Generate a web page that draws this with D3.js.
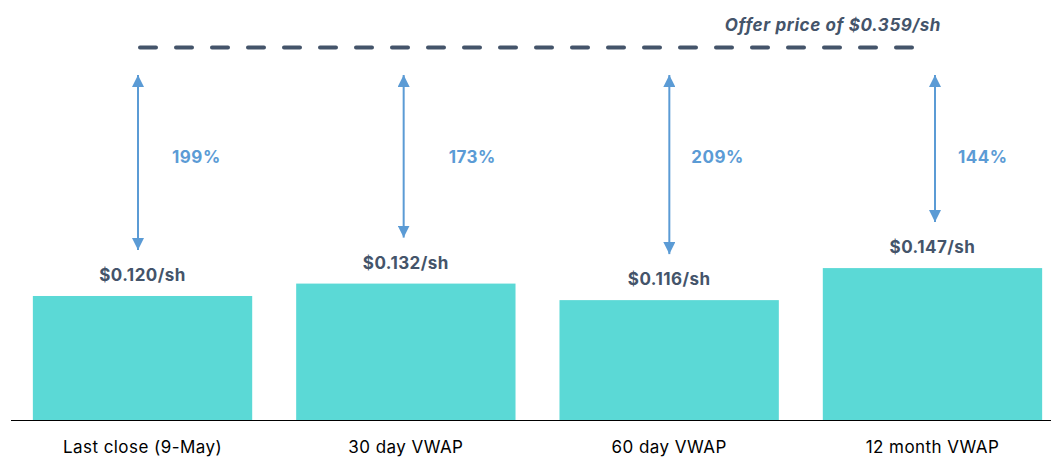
<!DOCTYPE html>
<html>
<head>
<meta charset="utf-8">
<script src="https://cdn.jsdelivr.net/npm/d3@7"></script>
<style>
    body { margin: 0; background: #fff; }
    svg { display: block; font-family: Inter, "Open Sans", sans-serif; }
</style>
</head>
<body>
<div id="chart"></div>
<script>
// chart data
const categories = ['Last close (9-May)', '30 day VWAP', '60 day VWAP', '12 month VWAP'];
const prices = [0.120, 0.132, 0.116, 0.147];
const priceLabels = ['$0.120/sh', '$0.132/sh', '$0.116/sh', '$0.147/sh'];
const premiumLabels = ['199%', '173%', '209%', '144%'];
const offerPrice = 0.359;
const offerLabel = 'Offer price of $0.359/sh';

const svgWidth = 1051;
const svgHeight = 457;
const baseline = 420;
const barColor = '#5BD9D6';
const arrowColor = '#5B9BD5';
const textColor = '#44546A';
// small per-label horizontal nudges for the premium labels
const premiumDx = [34, 45, 22, 23];

const svg = d3.select('#chart')
    .append('svg')
    .attr('width', svgWidth)
    .attr('height', svgHeight);

const xScale = d3.scaleBand()
    .domain(categories)
    .range([11, 1064])
    .paddingInner(0.167)
    .paddingOuter(0.083);

// the arrows are spaced a little wider than the bars
const arrowScale = d3.scalePoint()
    .domain(categories)
    .range([138, 935]);

const yScale = d3.scaleLinear()
    .domain([0, offerPrice])
    .range([baseline, 49]);

svg.append('defs').append('marker')
    .attr('id', 'head')
    .attr('viewBox', '0 0 10 10')
    .attr('refX', 10)
    .attr('refY', 5)
    .attr('markerWidth', 6)
    .attr('markerHeight', 6)
    .attr('markerUnits', 'strokeWidth')
    .attr('orient', 'auto-start-reverse')
    .append('path')
    .attr('d', 'M0,0 L10,5 L0,10 Z')
    .attr('fill', arrowColor);

// bars
svg.selectAll('.bar')
    .data(categories)
    .enter()
    .append('rect')
    .attr('class', 'bar')
    .attr('x', d => xScale(d))
    .attr('y', (d, i) => yScale(prices[i]))
    .attr('width', xScale.bandwidth())
    .attr('height', (d, i) => baseline - yScale(prices[i]))
    .attr('fill', barColor);

// axis
const axis = svg.append('g')
    .attr('transform', `translate(0, ${baseline})`)
    .call(d3.axisBottom(xScale).tickSize(0).tickPadding(21));
axis.select('.domain').attr('d', `M11,0.5H${svgWidth}`).attr('stroke', '#000');
axis.selectAll('text')
    .attr('fill', '#000')
    .style('font-size', '17px')
    .style('letter-spacing', '0.45px')
    .style('font-family', 'Inter, "Open Sans", sans-serif');

// price labels
svg.selectAll('.price-label')
    .data(categories)
    .enter()
    .append('text')
    .attr('class', 'price-label')
    .attr('x', d => xScale(d) + xScale.bandwidth() / 2)
    .attr('y', (d, i) => yScale(prices[i]) - 15)
    .attr('text-anchor', 'middle')
    .attr('fill', textColor)
    .style('font-size', '17px')
    .style('letter-spacing', '0.45px')
    .style('font-weight', 'bold')
    .text((d, i) => priceLabels[i]);

// offer price line
svg.append('line')
    .attr('x1', 140)
    .attr('x2', 916)
    .attr('y1', yScale(offerPrice) - 1.5)
    .attr('y2', yScale(offerPrice) - 1.5)
    .attr('stroke', textColor)
    .attr('stroke-width', 4)
    .attr('stroke-linecap', 'round')
    .attr('stroke-dasharray', '16,20');

svg.append('text')
    .attr('x', 941)
    .attr('y', yScale(offerPrice) - 18)
    .attr('text-anchor', 'end')
    .attr('fill', textColor)
    .style('font-size', '17px')
    .style('letter-spacing', '0.6px')
    .style('font-weight', 'bold')
    .style('font-style', 'italic')
    .text(offerLabel);

// double-headed arrows
svg.selectAll('.arrow')
    .data(categories)
    .enter()
    .append('line')
    .attr('class', 'arrow')
    .attr('x1', d => arrowScale(d))
    .attr('x2', d => arrowScale(d))
    .attr('y1', yScale(offerPrice) + 26)
    .attr('y2', (d, i) => yScale(prices[i]) - 46)
    .attr('stroke', arrowColor)
    .attr('stroke-width', 2)
    .attr('marker-start', 'url(#head)')
    .attr('marker-end', 'url(#head)');

svg.selectAll('.premium-label')
    .data(categories)
    .enter()
    .append('text')
    .attr('class', 'premium-label')
    .attr('x', (d, i) => arrowScale(d) + premiumDx[i])
    .attr('y', 163)
    .attr('fill', arrowColor)
    .style('font-size', '17px')
    .style('letter-spacing', '0.5px')
    .style('font-weight', 'bold')
    .text((d, i) => premiumLabels[i]);
</script>
</body>
</html>
